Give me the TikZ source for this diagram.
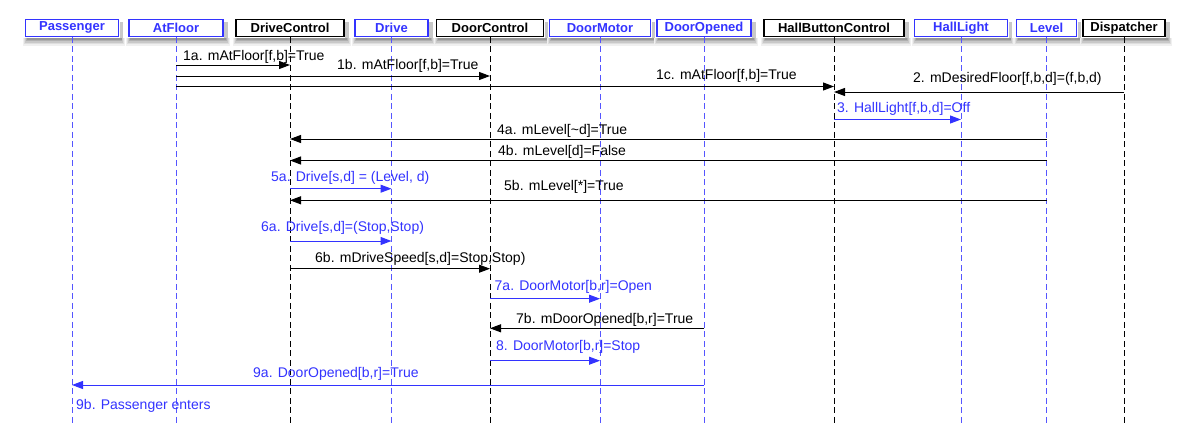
\documentclass[tikz,border=0pt]{standalone}
\usepackage{fontspec}
\setmainfont{Liberation Sans}
\usetikzlibrary{arrows.meta}
\definecolor{myblue}{RGB}{51,51,255}
\definecolor{lineblue}{RGB}{85,85,255}
\definecolor{sh1}{RGB}{240,240,240}
\definecolor{sh2}{RGB}{222,222,222}
\definecolor{sh3}{RGB}{200,200,200}
\definecolor{sh4}{RGB}{175,175,175}
\definecolor{sh5}{RGB}{150,150,150}
\begin{document}
\begin{tikzpicture}[x=1pt,y=-1pt,
  hdr/.style={draw, line width=1.1pt, fill=white, minimum height=17.3pt, inner sep=0pt,
    font=\fontsize{13}{15}\selectfont\bfseries},
  bhdr/.style={hdr, draw=myblue, text=myblue},
  khdr/.style={hdr, draw=black, text=black},
  life/.style={dash pattern=on 6pt off 3.5pt, line width=1pt},
  blife/.style={life, draw=lineblue},
  klife/.style={life, draw=black},
  msg/.style={line width=1pt, -{Triangle[length=11pt,width=8pt]}},
  kmsg/.style={msg, draw=black, fill=black},
  bmsg/.style={msg, draw=myblue, fill=myblue},
  lbl/.style={anchor=base west, inner sep=0pt, font=\fontsize{14}{16}\selectfont},
  klbl/.style={lbl, text=black},
  blbl/.style={lbl, text=myblue}
]
\path[fill=white] (0,0) rectangle (1186,439);
\useasboundingbox (0,0) rectangle (1186,439);

% headers
\node[bhdr, minimum width=93pt]  (pas) at (72,27.7)    {Passenger};
\node[bhdr, minimum width=94pt]  (af)  at (176,27.7)   {AtFloor};
\node[khdr, minimum width=108pt] (dc)  at (290,27.7)   {DriveControl};
\node[bhdr, minimum width=73pt]  (dr)  at (391.5,27.7) {Drive};
\node[khdr, minimum width=107pt] (doc) at (490,27.7)   {DoorControl};
\node[bhdr, minimum width=101pt] (dm)  at (600,27.7)   {DoorMotor};
\node[bhdr, minimum width=94pt]  (dop) at (704,27.7)   {DoorOpened};
\node[khdr, minimum width=140pt] (hbc) at (834,27.7)   {HallButtonControl};
\node[bhdr, minimum width=93pt]  (hl)  at (961,27.7)   {HallLight};
\node[bhdr, minimum width=60pt]  (lv)  at (1046.5,27.7){Level};
\node[khdr, minimum width=82pt]  (dis) at (1124,27.7)  {Dispatcher};

% soft shadow band below each header (drawn outside the box)
\foreach \n in {pas,af,dc,dr,doc,dm,dop,hbc,hl,lv,dis}{
  \path (\n.south west) coordinate (sw) (\n.north east) coordinate (ne);
  \fill[sh1] ([xshift=-2pt,yshift=-0.6pt]sw) rectangle ([xshift=6pt,yshift=-9pt]sw -| ne);
  \fill[sh2] ([xshift=-1pt,yshift=-0.6pt]sw) rectangle ([xshift=5pt,yshift=-7.5pt]sw -| ne);
  \fill[sh3] ([xshift=0pt,yshift=-0.6pt]sw) rectangle ([xshift=4pt,yshift=-6pt]sw -| ne);
  \fill[sh4] ([xshift=1pt,yshift=-0.6pt]sw) rectangle ([xshift=3.2pt,yshift=-4.5pt]sw -| ne);
  \fill[sh5] ([xshift=2pt,yshift=-0.6pt]sw) rectangle ([xshift=2.5pt,yshift=-3pt]sw -| ne);
  \fill[sh3] ([xshift=0.6pt,yshift=-3pt]ne) rectangle ([xshift=4pt,yshift=-0.6pt]sw -| ne);
}

% lifelines
\foreach \n in {pas,af,dr,dm,dop,hl,lv}
  \draw[blife] (\n.south) -- (\n.south |- 0,423);
\foreach \n in {dc,doc,hbc,dis}
  \draw[klife] (\n.south) -- (\n.south |- 0,423);

% messages
\draw[kmsg] (af |- 0,65) -- (dc |- 0,65);
\node[klbl] (l1a) at (183,60.5) {1a. mAtFloor[f,b]=True};
\draw[kmsg] (af |- 0,76) -- (doc |- 0,76);
\node[klbl] (l1b) at (337,69) {1b. mAtFloor[f,b]=True};
\draw[kmsg] (af |- 0,86.5) -- (hbc |- 0,86.5);
\node[klbl] (l1c) at (656,79) {1c. mAtFloor[f,b]=True};
\draw[kmsg] (dis |- 0,92) -- (hbc |- 0,92);
\node[klbl] (l2) at (913,82.5) {2. mDesiredFloor[f,b,d]=(f,b,d)};
\draw[bmsg] (hbc |- 0,119.5) -- (hl |- 0,119.5);
\node[blbl] (l3) at (837,112) {3. HallLight[f,b,d]=Off};
\draw[kmsg] (lv |- 0,139) -- (dc |- 0,139);
\node[klbl] (l4a) at (497,134) {4a. mLevel[\textasciitilde d]=True};
\draw[kmsg] (lv |- 0,160.5) -- (dc |- 0,160.5);
\node[klbl] (l4b) at (498,155) {4b. mLevel[d]=False};
\draw[bmsg] (dc |- 0,188.7) -- (dr |- 0,188.7);
\node[blbl] (l5a) at (271,181) {5a. Drive[s,d] = (Level, d)};
\draw[kmsg] (lv |- 0,200.3) -- (dc |- 0,200.3);
\node[klbl] (l5b) at (504,190.5) {5b. mLevel[*]=True};
\draw[bmsg] (dc |- 0,241) -- (dr |- 0,241);
\node[blbl] (l6a) at (261,231) {6a. Drive[s,d]=(Stop,Stop)};
\draw[kmsg] (dc |- 0,268.7) -- (doc |- 0,268.7);
\node[klbl] (l6b) at (315,262.5) {6b. mDriveSpeed[s,d]=Stop,Stop)};
\draw[bmsg] (doc |- 0,298.7) -- (dm |- 0,298.7);
\node[blbl] (l7a) at (494.5,290) {7a. DoorMotor[b,r]=Open};
\draw[kmsg] (dop |- 0,328.3) -- (doc |- 0,328.3);
\node[klbl] (l7b) at (516,323) {7b. mDoorOpened[b,r]=True};
\draw[bmsg] (doc |- 0,360.7) -- (dm |- 0,360.7);
\node[blbl] (l8) at (496,350.5) {8. DoorMotor[b,r]=Stop};
\draw[bmsg] (dop |- 0,385) -- (pas |- 0,385);
\node[blbl] (l9a) at (253,377) {9a. DoorOpened[b,r]=True};
\node[blbl] (l9b) at (76,409) {9b. Passenger enters};
\end{tikzpicture}
\end{document}
